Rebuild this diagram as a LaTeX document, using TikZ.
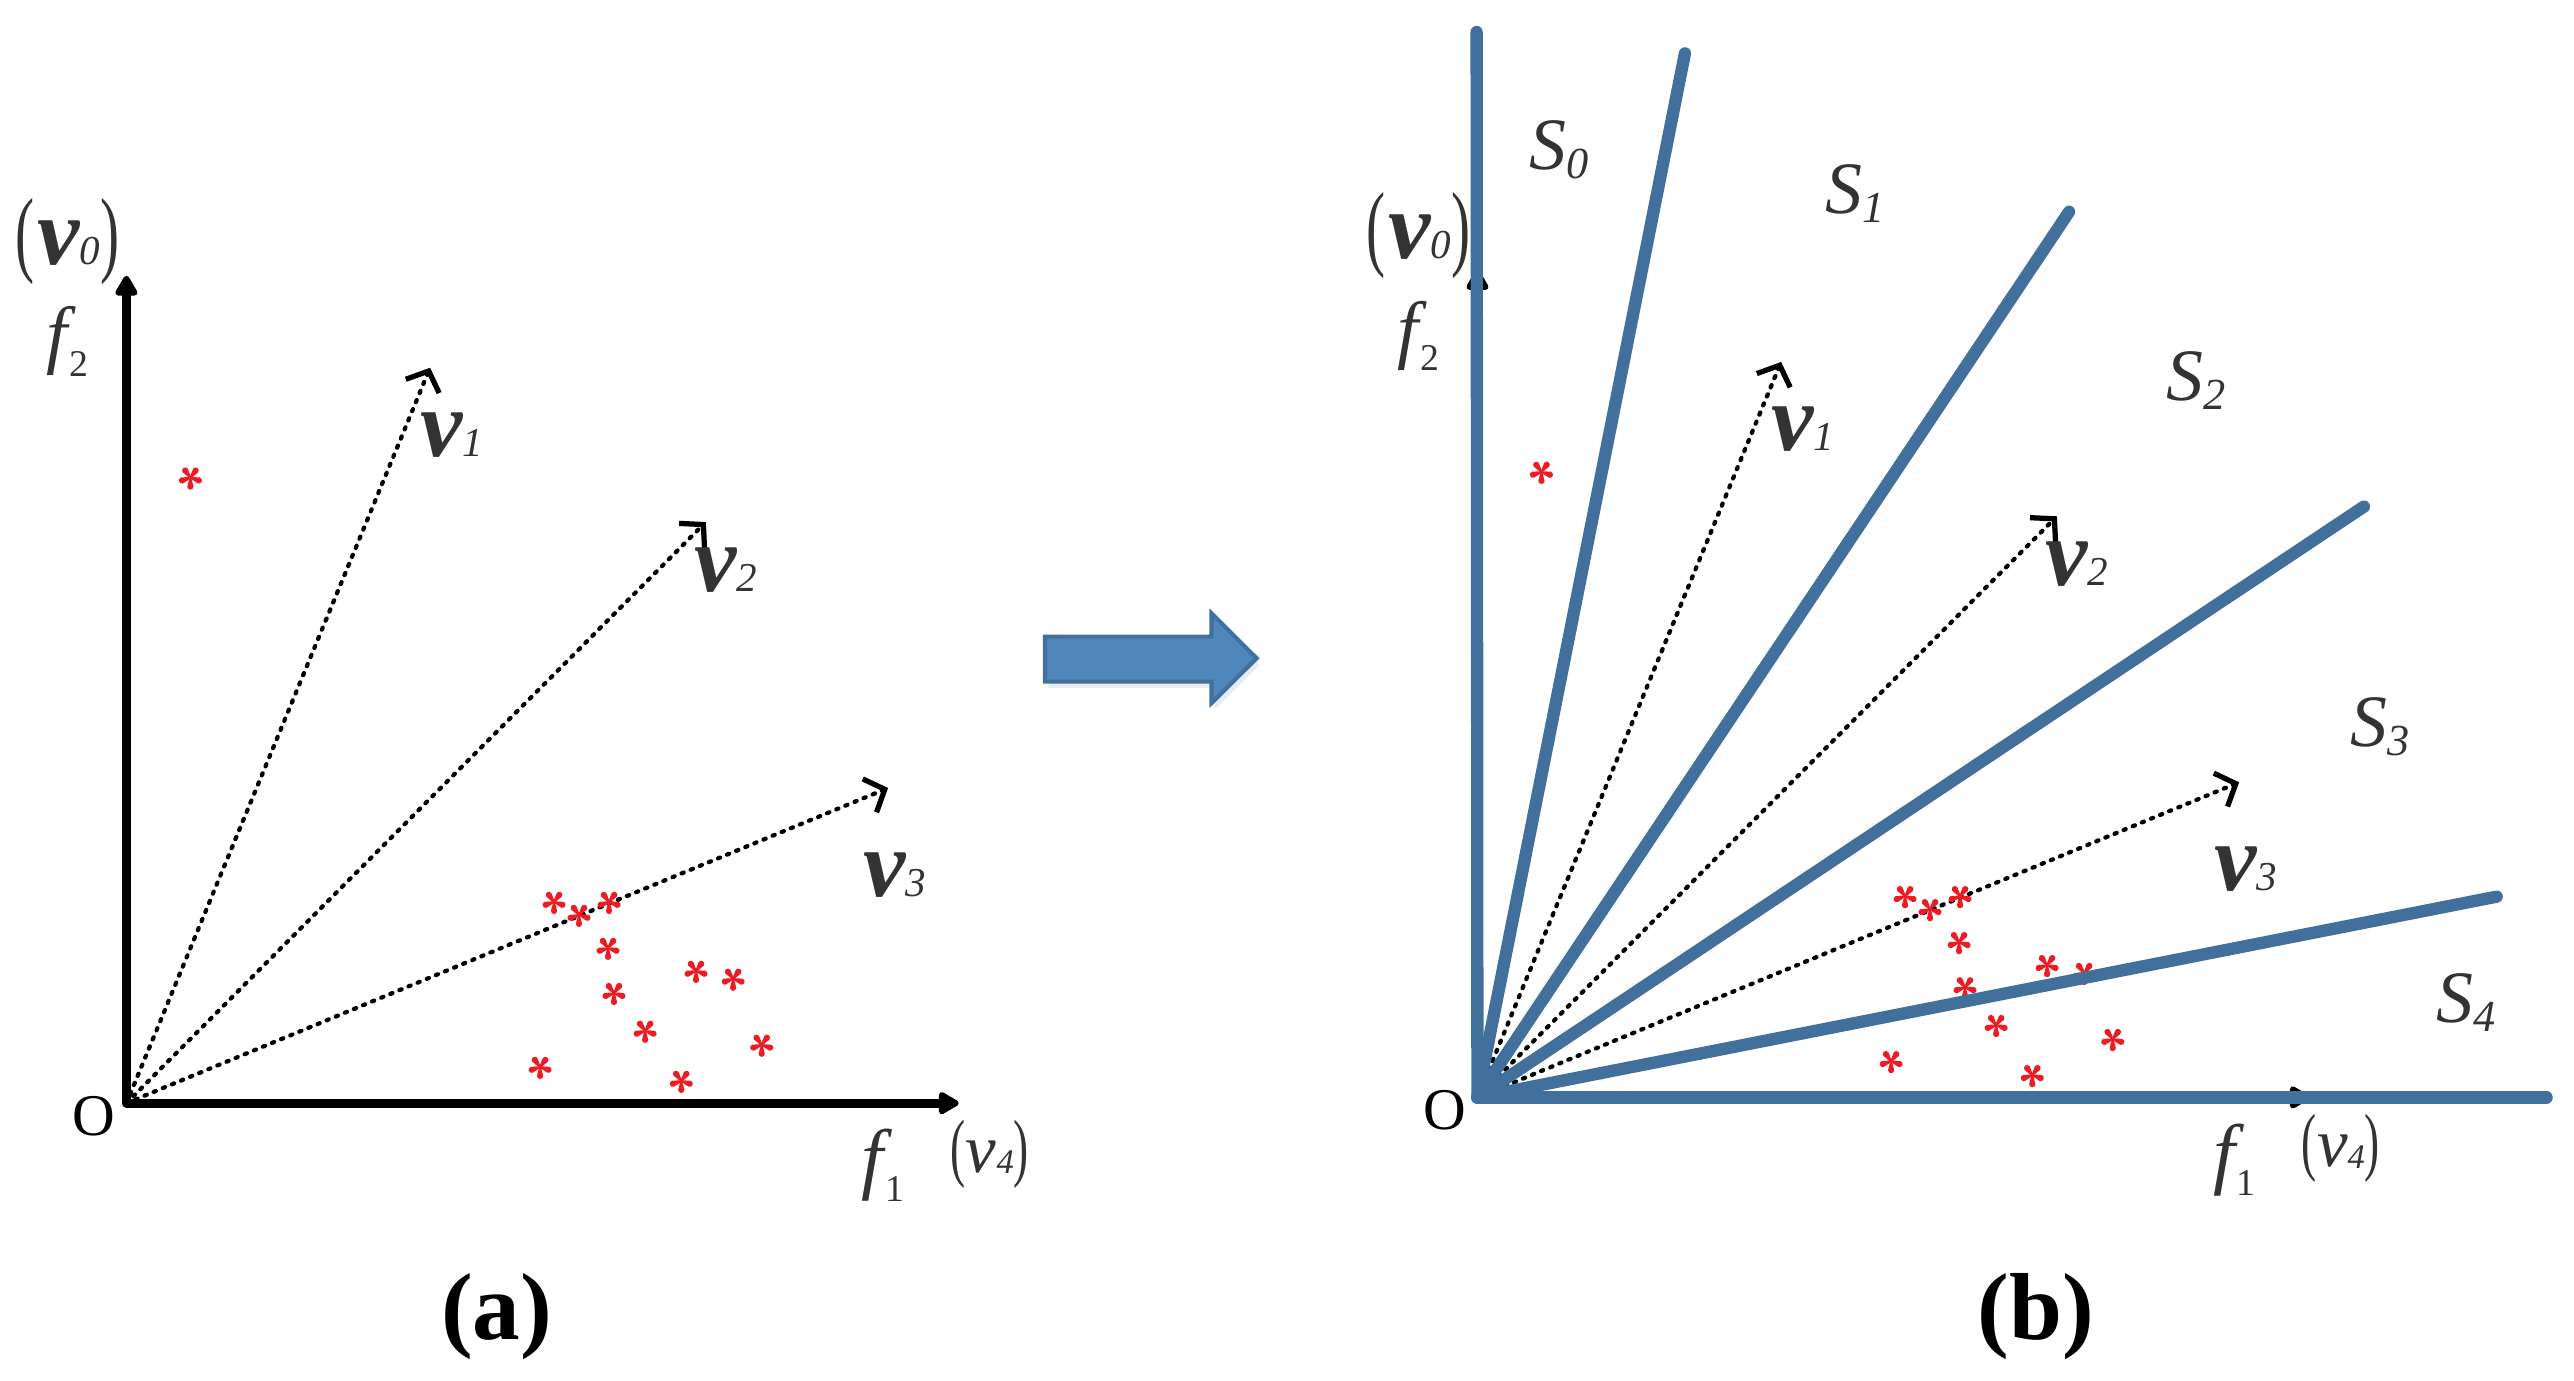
\documentclass[tikz,border=0pt]{standalone}
\usepackage{graphicx}
\usepackage{fontspec}
\setmainfont{Liberation Serif}
\usetikzlibrary{arrows.meta}
\definecolor{sepblue}{HTML}{41709C}
\definecolor{arrfill}{HTML}{4F87BB}
\definecolor{lblc}{HTML}{333333}
\definecolor{starred}{HTML}{ED1C24}
\newcommand{\myfs}[1]{\fontsize{#1}{#1}\selectfont}
\newcommand{\thinpar}[2]{\scalebox{0.6}[1]{\myfs{#1}#2}}
\newcommand{\vlab}[1]{{\myfs{58}\bfseries\itshape v}{\myfs{25}\itshape #1}}
\newcommand{\vparlab}[1]{\thinpar{58}{(}\,{\myfs{58}\bfseries\itshape v}{\myfs{25}\itshape #1}\thinpar{58}{)}}
\newcommand{\vfourlab}{\thinpar{46}{(}{\myfs{42}\itshape v}\raisebox{-1pt}{\myfs{21}\itshape 4}\thinpar{46}{)}}
\newcommand{\slab}[1]{{\myfs{45}\itshape S}\raisebox{-5.5pt}{\myfs{27}\itshape #1}}
\newcommand{\flab}[2]{{\myfs{#1}\itshape f}\kern1pt\raisebox{-10pt}{\myfs{23}#2}}
\tikzset{
  axisline/.style={line width=5.3pt, line join=round,
    {Triangle[length=14pt,width=15pt,round]}-{Triangle[length=14pt,width=15pt,round]}},
  dotarr/.style={line width=2.6pt, dash pattern=on 1.4pt off 4.6pt, line cap=round,
    -{Straight Barb[length=10pt,width=22pt,line width=3.2pt]}},
  sepline/.style={sepblue, line width=7.5pt, line cap=round},
  lbl/.style={text=lblc, inner sep=0pt},
  astr/.pic={\foreach \a in {270,342,54,126,198}{
      \fill[starred,rotate=\a] (0,-0.5) -- (5.4,-1.9) arc[start angle=-90,end angle=90,radius=1.9] -- (0,0.5) -- cycle;}}
}
\newcommand{\panelbase}[1]{%
  \coordinate (#1o) at (77,672);
  \coordinate (#1tv) at (77,168);
  \coordinate (#1th) at (584,672);
  \coordinate (#1t1) at (262,224);
  \coordinate (#1t2) at (430,318);
  \coordinate (#1t3) at (541,480);
  \draw[dotarr] (#1o) -- (#1t1);
  \draw[dotarr] (#1o) -- (#1t2);
  \draw[dotarr] (#1o) -- (#1t3);
  \foreach \p in {(116,291),(337.5,549.5),(352.7,557.4),(371,549.5),(370.4,577.5),(424,591.5),(446.6,596.3),(374,605),(393,628),(464,636.5),(329,650),(415,658.5)}
    \pic at \p {astr};
  \draw[axisline] (#1tv) -- (#1o) -- (#1th);
  \node[lbl] (#1lv0) at (41,147) {\vparlab{0}};
  \node[lbl] (#1lf2) at (41,208) {\flab{46}{2}};
  \node[lbl] (#1lv1) at (275,265) {\vlab{1}};
  \node[lbl] (#1lv2) at (442,347) {\vlab{2}};
  \node[lbl] (#1lv3) at (545,533) {\vlab{3}};
  \node[lbl] (#1lf1) at (538,710) {\flab{48}{1}};
  \node[lbl] (#1lv4) at (603,703) {\vfourlab};
  \node[text=black, inner sep=0pt, font=\myfs{36}] (#1lo) at (57,680) {O};
}
\begin{document}
\begin{tikzpicture}[x=1pt,y=-1pt]
\useasboundingbox (0,0) rectangle (1568,841);
% panel (a)
\panelbase{a}
% block arrow
\fill[sepblue!25, opacity=0.5] (638.6,391.8) -- (740,391.8) -- (740,377.6) -- (767.5,405) -- (740,432.3) -- (740,419.2) -- (638.6,419.2) -- cycle;
\draw[fill=arrfill, draw=sepblue, line width=2.5pt, line join=miter]
  (636.6,387.8) -- (738,387.8) -- (738,373.6) -- (765.5,401) -- (738,428.3) -- (738,415.2) -- (636.6,415.2) -- cycle;
% panel (b)
\begin{scope}[shift={(823,-3.5)}]
\panelbase{b}
\end{scope}
\coordinate (e0) at (899.5,19.5);
\coordinate (e1) at (1026.4,32.5);
\coordinate (e2) at (1260.4,129);
\coordinate (e3) at (1440,308.6);
\coordinate (e4) at (1520.9,546.2);
\coordinate (e5) at (1551.3,668.5);
\foreach \e in {e0,e1,e2,e3,e4,e5} \draw[sepline] (bo) -- (\e);
\node[lbl] (s0) at (950,91) {\slab{0}};
\node[lbl] (s1) at (1130,118) {\slab{1}};
\node[lbl] (s2) at (1338,232) {\slab{2}};
\node[lbl] (s3) at (1450,443) {\slab{3}};
\node[lbl] (s4) at (1502,611) {\slab{4}};
% captions
\node[inner sep=0pt, font=\myfs{58}\bfseries] (capa) at (302.5,802) {(a)};
\node[inner sep=0pt, font=\myfs{58}\bfseries] (capb) at (1240,802) {(b)};
\end{tikzpicture}
\end{document}
